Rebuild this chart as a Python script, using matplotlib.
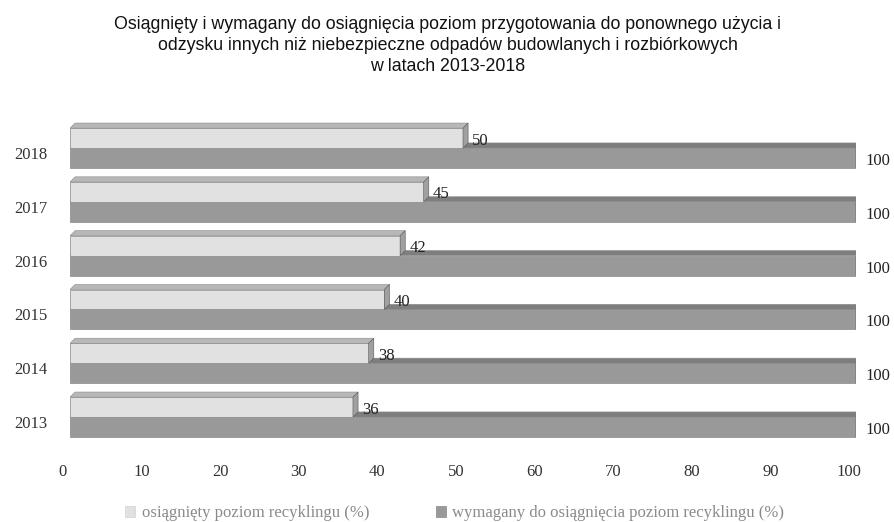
import matplotlib
matplotlib.use('Agg')
import matplotlib.pyplot as plt
import matplotlib.transforms as mtransforms
from matplotlib.patches import Polygon, Patch
import numpy as np

# dane z wykresu
lata = ['2013', '2014', '2015', '2016', '2017', '2018']
osiagniety = [36, 38, 40, 42, 45, 50]
wymagany = [100, 100, 100, 100, 100, 100]
nazwy = ['osiągnięty poziom recyklingu (%)',
         'wymagany do osiągnięcia poziom recyklingu (%)']
tytul = ('Osiągnięty i wymagany do osiągnięcia poziom przygotowania do ponownego użycia i\n'
         'odzysku innych niż niebezpieczne odpadów budowlanych i rozbiórkowych\n'
         'w latach 2013-2018')

# kolory: przod, gora, bok
jasny = ('#e1e1e1', '#b7b7b7', '#a0a0a0')
ciemny = ('#999999', '#7e7e7e', '#6a6a6a')

serif = ['Liberation Serif', 'DejaVu Serif']
sans = ['Liberation Sans', 'DejaVu Sans']

fig = plt.figure(figsize=(8.95, 5.22), dpi=100)
ax = fig.add_axes([70 / 895, (522 - 457.4) / 522, 786 / 895, 349.7 / 522])

h = 0.37      # wysokosc slupka
dx = 0.65     # glebokosc 3D w jednostkach x
dy = 0.095    # glebokosc 3D w jednostkach y


def slupek3d(v, y0, y1, kolory, z):
    ax.barh((y0 + y1) / 2, v, height=y1 - y0, left=0, color=kolory[0],
            edgecolor='#8a8a8a', linewidth=0.5, zorder=z)
    gora = Polygon([(0, y1), (v, y1), (v + dx, y1 + dy), (dx, y1 + dy)],
                   closed=True, facecolor=kolory[1], edgecolor='#8a8a8a',
                   linewidth=0.4, zorder=z)
    bok = Polygon([(v, y0), (v + dx, y0 + dy), (v + dx, y1 + dy), (v, y1)],
                  closed=True, facecolor=kolory[2], edgecolor='#555555',
                  linewidth=0.4, zorder=z)
    ax.add_patch(gora)
    ax.add_patch(bok)


y = np.arange(len(lata))
for i in range(len(lata)):
    slupek3d(wymagany[i], y[i] - h, y[i], ciemny, 2 + i * 2)
    slupek3d(osiagniety[i], y[i], y[i] + h, jasny, 3 + i * 2)
    ax.text(osiagniety[i] + dx + 0.5, y[i] + 0.14, str(osiagniety[i]),
            fontsize=12, family=serif, color='#222222', va='center',
            ha='left', zorder=20)
    ax.text(wymagany[i] + dx + 0.5, y[i] - 0.24, str(wymagany[i]),
            fontsize=12, family=serif, color='#222222', va='center',
            ha='left', zorder=20, clip_on=False)

ax.set_xlim(0, 100)
ax.set_ylim(-0.75, 5.75)
ax.set_xticks(range(0, 101, 10))
ax.set_yticks(y)
ax.set_yticklabels(lata)
ax.tick_params(length=0, labelsize=12, colors='#333333')
ax.tick_params(axis='x', pad=5)
ax.tick_params(axis='y', pad=16)
for lab in ax.get_xticklabels() + ax.get_yticklabels():
    lab.set_family(serif)

przes_x = mtransforms.ScaledTranslation(-7 / 100, 0, fig.dpi_scale_trans)
for lab in ax.get_xticklabels():
    lab.set_transform(lab.get_transform() + przes_x)
przes_y = mtransforms.ScaledTranslation(0, -5 / 100, fig.dpi_scale_trans)
for lab in ax.get_yticklabels():
    lab.set_transform(lab.get_transform() + przes_y)

for s in ax.spines.values():
    s.set_visible(False)

fig.text(0.5, 0.97, tytul, ha='center', va='top', fontsize=12.8,
         family=sans, color='#111111', linespacing=1.32)

uchwyty = [Patch(facecolor=jasny[0], edgecolor='#cccccc', linewidth=0.4),
           Patch(facecolor=ciemny[0], edgecolor='#777777', linewidth=0.4)]
leg = fig.legend(uchwyty, nazwy, loc='lower center', ncol=2,
                 bbox_to_anchor=(0.508, -0.027), frameon=False,
                 handlelength=0.6, handleheight=0.6, handletextpad=0.4,
                 columnspacing=4.0, prop={'family': serif, 'size': 12})
for t in leg.get_texts():
    t.set_color('#8a8a8a')

fig.savefig('out.png', dpi=100)
